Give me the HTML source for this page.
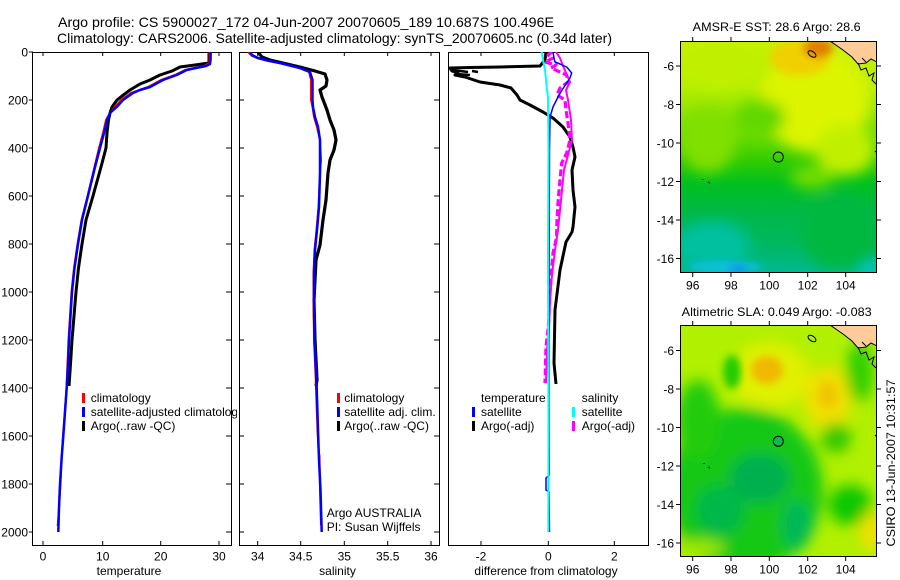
<!DOCTYPE html>
<html><head><meta charset="utf-8">
<style>
html,body{margin:0;padding:0;background:#fff;}
svg{display:block;}
text{font-family:"Liberation Sans",Arial,sans-serif;fill:#000;}
</style></head>
<body>
<svg width="900" height="580" viewBox="0 0 900 580" xmlns="http://www.w3.org/2000/svg">
<defs>
<clipPath id="p1"><rect x="32" y="52" width="200" height="494"/></clipPath>
<clipPath id="p2"><rect x="239" y="52" width="201" height="494"/></clipPath>
<clipPath id="p3"><rect x="448" y="52" width="201" height="494"/></clipPath>
<clipPath id="leg1"><rect x="0" y="380" width="237" height="60"/></clipPath>
<clipPath id="m1"><rect x="681" y="42" width="195" height="230"/></clipPath>
<clipPath id="m2"><rect x="681" y="326" width="195" height="230"/></clipPath>
<filter id="bl" x="-50%" y="-50%" width="200%" height="200%"><feGaussianBlur stdDeviation="7"/></filter>
<filter id="bl2" x="-50%" y="-50%" width="200%" height="200%"><feGaussianBlur stdDeviation="4"/></filter>
<linearGradient id="g1" gradientUnits="userSpaceOnUse" x1="0" y1="41" x2="0" y2="272">
<stop offset="0" stop-color="#c8f000"/>
<stop offset="0.2" stop-color="#b4ee00"/>
<stop offset="0.4" stop-color="#70dd00"/>
<stop offset="0.52" stop-color="#30cc00"/>
<stop offset="0.62" stop-color="#00c020"/>
<stop offset="0.75" stop-color="#00b848"/>
<stop offset="0.88" stop-color="#00b860"/>
<stop offset="1" stop-color="#00b890"/>
</linearGradient>
</defs>

<!-- Titles -->
<text x="58" y="27" font-size="14" textLength="496" lengthAdjust="spacingAndGlyphs">Argo profile: CS 5900027_172 04-Jun-2007 20070605_189 10.687S 100.496E</text>
<text x="57" y="43" font-size="14" textLength="555" lengthAdjust="spacingAndGlyphs">Climatology: CARS2006. Satellite-adjusted climatology: synTS_20070605.nc (0.34d later)</text>

<!-- ================= Panel 1: temperature ================= -->
<g stroke="#000" stroke-width="1" fill="none">
<rect x="32.5" y="52.5" width="199" height="493"/>
<path d="M43,52v4M102.7,52v4M160.7,52v4M219,52v4M43,545v-4M102.7,545v-4M160.7,545v-4M219,545v-4"/>
<path d="M29,52h4M29,100h4M29,148h4M29,196h4M29,244h4M29,292h4M29,340h4M29,388h4M29,436h4M29,484h4M29,532h4
M231,100h-5M231,148h-5M231,196h-5M231,244h-5M231,292h-5M231,340h-5M231,388h-5M231,436h-5M231,484h-5M231,532h-5"/>
</g>
<g font-size="12" text-anchor="end">
<text x="28" y="56.5">0</text>
<text x="28" y="104.5">200</text>
<text x="28" y="152.5">400</text>
<text x="28" y="200.5">600</text>
<text x="28" y="248.5">800</text>
<text x="28" y="296.5">1000</text>
<text x="28" y="344.5">1200</text>
<text x="28" y="392.5">1400</text>
<text x="28" y="440.5">1600</text>
<text x="28" y="488.5">1800</text>
<text x="28" y="536.5">2000</text>
</g>
<g font-size="12" text-anchor="middle">
<text x="43" y="560.5">0</text>
<text x="102.7" y="560.5">10</text>
<text x="160.7" y="560.5">20</text>
<text x="219" y="560.5">30</text>
<text x="129" y="575">temperature</text>
</g>
<g clip-path="url(#p1)" fill="none" stroke-linejoin="round">
<polyline stroke="#000" stroke-width="3" points="209,52 209,63 195,65 180,67 172,71 160,75 150,80 140,84 130,90 122,96 117,100 112,107 110,113 108.5,120 107,133 106,148 101,167 92.7,197 86,220 82,244 78.5,268 76,292 74,316 72,340 70.5,364 69,386"/>
<polyline stroke="#f00" stroke-width="2" points="209.5,52 209.5,63 204,66 194,68 185,70 175,75 161,80 148,87 131,93 121,100 115,107 110,113 106,120 103,133 99,148 94.5,167 87.3,197 81.5,220 77.5,244 74,268 71.5,292 70,316 68.5,340 67.5,364 66.5,388 64.8,412 63,436 61.5,460 60.5,484 59,508 57.7,526"/>
<polyline stroke="#00f" stroke-width="2.5" points="210.7,52 210.5,60 210,64 206,66 196,68 186.7,70 176.7,75 163,80 150,87 140,90 133,93 123,100 116.7,107 110,113 107,120 104,133 100,148 95,167 87.7,197 82,220 78,244 74.5,268 72,292 70.5,316 69,340 68,364 66.7,388 65,412 63.3,436 61.5,460 60,484 59,508 58.3,532"/>
</g>
<rect x="82" y="393" width="3" height="10" fill="#f00"/>
<rect x="82" y="407" width="3" height="10" fill="#00f"/>
<rect x="82" y="421" width="3" height="10" fill="#000"/>
<g font-size="12" clip-path="url(#leg1)">
<text x="90.7" y="402">climatology</text>
<text x="90.7" y="416">satellite-adjusted climatology</text>
<text x="90.7" y="430">Argo(..raw -QC)</text>
</g>

<!-- ================= Panel 2: salinity ================= -->
<g stroke="#000" stroke-width="1" fill="none">
<rect x="239.5" y="52.5" width="200" height="493"/>
<path d="M257.7,52v4M300.7,52v4M344.3,52v4M387.7,52v4M431,52v4M257.7,545v-4M300.7,545v-4M344.3,545v-4M387.7,545v-4M431,545v-4"/>
<path d="M240,100h4M240,148h4M240,196h4M240,244h4M240,292h4M240,340h4M240,388h4M240,436h4M240,484h4M240,532h4
M439,100h-5M439,148h-5M439,196h-5M439,244h-5M439,292h-5M439,340h-5M439,388h-5M439,436h-5M439,484h-5M439,532h-5"/>
</g>
<g font-size="12" text-anchor="middle">
<text x="257.7" y="560.5">34</text>
<text x="300.7" y="560.5">34.5</text>
<text x="344.3" y="560.5">35</text>
<text x="387.7" y="560.5">35.5</text>
<text x="431" y="560.5">36</text>
<text x="337.5" y="575">salinity</text>
</g>
<g clip-path="url(#p2)" fill="none" stroke-linejoin="round">
<polyline stroke="#000" stroke-width="3.2" points="258,52 262,57 270,60 283,63 300,67 315,71 325,74 327,80 326,86 320,90 322,97 327,110 330,120 334,130 336,140 334,150 330,160 328,173 326,200 323,220 320,245 316,260 314,300 315,340 317,380 316,386"/>
<polyline stroke="#f00" stroke-width="2" points="248,52 252,56 257,58 268,61 279,63 299,68 309,72 311,80 311,100 312.5,107 314,117 317,127 320,140 321,160 320,173 318.5,207 316.5,230 314.5,250 313.5,273 313.5,300 314,340 315.5,373 316,388 317.5,430 318.5,450 319.5,456 320,490 321,525"/>
<polyline stroke="#00f" stroke-width="2.5" points="250,52 252,55 258,58 270,61 280,63 300,68 310,72 312.5,80 312.5,100 313,107 315,117 318,127 320,140 320,173 319,207 317,230 315,250 314,273 314,300 314.5,340 316,373 316.7,388 318,430 319,460 320.5,490 321.7,532"/>
</g>
<rect x="337" y="393" width="3" height="10" fill="#f00"/>
<rect x="337" y="407" width="3" height="10" fill="#00f"/>
<rect x="337" y="421" width="3" height="10" fill="#000"/>
<g font-size="12">
<text x="344.3" y="402">climatology</text>
<text x="344.3" y="416">satellite adj. clim.</text>
<text x="344.3" y="430">Argo(..raw -QC)</text>
<text x="326.7" y="517">Argo AUSTRALIA</text>
<text x="326.7" y="531">PI: Susan Wijffels</text>
</g>

<!-- ================= Panel 3: difference ================= -->
<g stroke="#000" stroke-width="1" fill="none">
<rect x="448.5" y="52.5" width="200" height="493"/>
<path d="M481,52v4M548.3,52v4M614.3,52v4M481,545v-4M548.3,545v-4M614.3,545v-4"/>
</g>
<g font-size="12" text-anchor="middle">
<text x="481" y="560.5">-2</text>
<text x="548.3" y="560.5">0</text>
<text x="614.3" y="560.5">2</text>
<text x="546" y="575">difference from climatology</text>
</g>
<g clip-path="url(#p3)" fill="none" stroke-linejoin="round">
<polyline stroke="#000" stroke-width="3" points="546,52 545,60 540,66 500,67 470,67.5 450,68 452,71 458,73 455,75 465,77 480,82 500,85 511,88 517,95 520,100 530,105 543,112 553,118 563,127 570,137 573,147 575,157 572,170 573,190 575,207 573,227 572,232 566,242 560,270 555,310 554,363 556,384"/>
<path stroke="#000" stroke-width="2.5" d="M452,70 L468,72 M456,74 L470,75 M472,71 L478,72"/>
<polyline stroke="#f0f" stroke-width="2" points="556,52 560,58 563,66 567,75 570,82 566,90 568,100 571,120 572,140 568,155 564,170 562,190 560,210 558,230 555,250 552,275 550,300 549,330 547,350 546,383"/>
<polyline stroke="#f0f" stroke-width="3.2" stroke-dasharray="7,3" points="552,52 548,55 553,58 545,62 556,65 551,68 560,72 566.7,75 568,82 560,88 556.7,95 562,98 565,100 566,110 568,123 570,140 566.7,153 561.7,163 560,180 558,203 556.7,227 556.7,237 553,253 550.7,280 548.3,327 546,347 545,383"/>
<polyline stroke="#00f" stroke-width="1.5" points="553,52 554,58 555,62 560,64 566.7,67 571.7,73 570,78 566.7,83 562,90 558,97 553,107 550,117 549.5,150 549,300 549,400 549.3,475 546,478 546,490 549,492 549.5,532"/>
<polyline stroke="#0ff" stroke-width="2" points="541.7,52 543,60 545,70 546,80 547,90 548,97 548.5,150 548,250 548.3,350 548.5,450 548.3,532"/>
</g>
<rect x="472" y="407" width="3" height="10" fill="#00f"/>
<rect x="472" y="421" width="3" height="10" fill="#000"/>
<rect x="572" y="407" width="3" height="10" fill="#0ff"/>
<rect x="572" y="421" width="3" height="10" fill="#f0f"/>
<g font-size="12">
<text x="481" y="402">temperature</text>
<text x="481" y="416">satellite</text>
<text x="481" y="430">Argo(-adj)</text>
<text x="581.7" y="402">salinity</text>
<text x="581.7" y="416">satellite</text>
<text x="581.7" y="430">Argo(-adj)</text>
</g>

<!-- ================= Map 1: SST ================= -->
<text x="776.7" y="31" font-size="12" text-anchor="middle" textLength="168" lengthAdjust="spacingAndGlyphs">AMSR-E SST: 28.6 Argo: 28.6</text>
<g clip-path="url(#m1)">
<rect x="681" y="41" width="196" height="232" fill="url(#g1)"/>
<g filter="url(#bl)">
<ellipse cx="815" cy="100" rx="55" ry="52" fill="#dcf400"/>
<ellipse cx="845" cy="150" rx="30" ry="25" fill="#c0f000"/>
<ellipse cx="720" cy="62" rx="40" ry="25" fill="#c0f000"/>
<ellipse cx="708" cy="140" rx="28" ry="32" fill="#80e000"/>
<ellipse cx="760" cy="118" rx="25" ry="18" fill="#60d800"/>
<ellipse cx="812" cy="177" rx="22" ry="12" fill="#70dc00"/>
<ellipse cx="712" cy="245" rx="38" ry="24" fill="#00c0a0"/>
<ellipse cx="840" cy="232" rx="40" ry="38" fill="#00b840"/>
<ellipse cx="872" cy="270" rx="12" ry="6" fill="#00d0d0"/>
</g>
<g filter="url(#bl2)">
<ellipse cx="800" cy="58" rx="30" ry="18" fill="#f0d000"/>
<ellipse cx="818" cy="48" rx="15" ry="10" fill="#e08000"/>
<ellipse cx="725" cy="267" rx="38" ry="6" fill="#10c0e0"/>
<ellipse cx="738" cy="269" rx="10" ry="4" fill="#1090ff"/>
</g>
<polygon points="830,41 877,41 877,62 871,59 866,63 858,64 852,57 843,50" fill="#ffcc99" stroke="#000" stroke-width="1"/>
<path d="M858,63 L861,70 L866,68 L869,76 L874,73 L872,80 L876,84 M862,58 L866,62" fill="none" stroke="#000" stroke-width="1"/>
<ellipse cx="812" cy="54" rx="4.5" ry="2.5" transform="rotate(35 812 54)" fill="none" stroke="#000" stroke-width="1"/>
<path d="M703,179v1M708,182l2,1M875,151l2,2" stroke="#000" stroke-width="1"/>
<circle cx="778.3" cy="157" r="5" fill="none" stroke="#000" stroke-width="1"/>
</g>
<g stroke="#000" stroke-width="1" fill="none">
<rect x="680.5" y="41.5" width="196" height="231"/>
<path d="M692.7,41v-4M731,41v-4M769.3,41v-4M807.7,41v-4M845.7,41v-4M692.7,273v4M731,273v4M769.3,273v4M807.7,273v4M845.7,273v4"/>
<path d="M680,66h-4M680,104.5h-4M680,143h-4M680,181.5h-4M680,220h-4M680,258.5h-4M877,66h4M877,104.5h4M877,143h4M877,181.5h4M877,220h4M877,258.5h4"/>
</g>
<g font-size="12" text-anchor="end">
<text x="674" y="70.5">-6</text>
<text x="674" y="109">-8</text>
<text x="674" y="147.5">-10</text>
<text x="674" y="186">-12</text>
<text x="674" y="224.5">-14</text>
<text x="674" y="263">-16</text>
</g>
<g font-size="12" text-anchor="middle">
<text x="692.7" y="289.5">96</text>
<text x="731" y="289.5">98</text>
<text x="769.3" y="289.5">100</text>
<text x="807.7" y="289.5">102</text>
<text x="845.7" y="289.5">104</text>
</g>

<!-- ================= Map 2: SLA ================= -->
<text x="776.7" y="316" font-size="12" text-anchor="middle" textLength="190" lengthAdjust="spacingAndGlyphs">Altimetric SLA: 0.049 Argo: -0.083</text>
<g clip-path="url(#m2)">
<rect x="681" y="325" width="196" height="232" fill="#b0f000"/>
<g filter="url(#bl)">
<ellipse cx="745" cy="490" rx="78" ry="82" fill="#18c818"/>
<ellipse cx="698" cy="420" rx="22" ry="40" fill="#20cc10"/>
<ellipse cx="760" cy="478" rx="30" ry="25" fill="#00b050"/>
<ellipse cx="720" cy="510" rx="25" ry="25" fill="#00b848"/>
<ellipse cx="797" cy="525" rx="15" ry="25" fill="#00b858"/>
<ellipse cx="770" cy="375" rx="40" ry="33" fill="#e0f000"/>
<ellipse cx="828" cy="398" rx="24" ry="32" fill="#f0e000"/>
<ellipse cx="860" cy="372" rx="14" ry="30" fill="#30d000"/>
<ellipse cx="850" cy="505" rx="22" ry="20" fill="#10c800"/>
<ellipse cx="836" cy="438" rx="15" ry="15" fill="#30c800"/>
<ellipse cx="872" cy="532" rx="12" ry="20" fill="#f0e000"/>
<ellipse cx="700" cy="548" rx="25" ry="8" fill="#a0e800"/>
</g>
<g filter="url(#bl2)">
<ellipse cx="767" cy="370" rx="16" ry="14" fill="#f0b800"/>
<ellipse cx="828" cy="395" rx="10" ry="14" fill="#f0c800"/>
<ellipse cx="732" cy="372" rx="9" ry="17" fill="#20cc00"/>
</g>
<polygon points="830,325 877,325 877,346 871,343 866,347 858,348 852,341 843,334" fill="#ffcc99" stroke="#000" stroke-width="1"/>
<path d="M858,347 L861,354 L866,352 L869,360 L874,357 L872,364 L876,368 M862,342 L866,346" fill="none" stroke="#000" stroke-width="1"/>
<ellipse cx="812" cy="338.5" rx="4.5" ry="2.5" transform="rotate(35 812 338.5)" fill="none" stroke="#000" stroke-width="1"/>
<path d="M704,463v1M708,467l2,1M875,435l2,2" stroke="#000" stroke-width="1"/>
<circle cx="778.3" cy="441.3" r="5" fill="#10b850" stroke="#000" stroke-width="1"/>
</g>
<g stroke="#000" stroke-width="1" fill="none">
<rect x="680.5" y="325.5" width="196" height="231"/>
<path d="M692.7,325v-4M731,325v-4M769.3,325v-4M807.7,325v-4M845.7,325v-4M692.7,557v4M731,557v4M769.3,557v4M807.7,557v4M845.7,557v4"/>
<path d="M680,350.5h-4M680,389h-4M680,427.5h-4M680,466h-4M680,504.5h-4M680,543h-4M877,350.5h4M877,389h4M877,427.5h4M877,466h4M877,504.5h4M877,543h4"/>
</g>
<g font-size="12" text-anchor="end">
<text x="674" y="355">-6</text>
<text x="674" y="393.5">-8</text>
<text x="674" y="432">-10</text>
<text x="674" y="470.5">-12</text>
<text x="674" y="509">-14</text>
<text x="674" y="547.5">-16</text>
</g>
<g font-size="12" text-anchor="middle">
<text x="692.7" y="573.5">96</text>
<text x="731" y="573.5">98</text>
<text x="769.3" y="573.5">100</text>
<text x="807.7" y="573.5">102</text>
<text x="845.7" y="573.5">104</text>
</g>

<text transform="translate(895,463) rotate(-90)" font-size="12" text-anchor="middle" textLength="167" lengthAdjust="spacingAndGlyphs">CSIRO 13-Jun-2007 10:31:57</text>
</svg>
</body></html>
